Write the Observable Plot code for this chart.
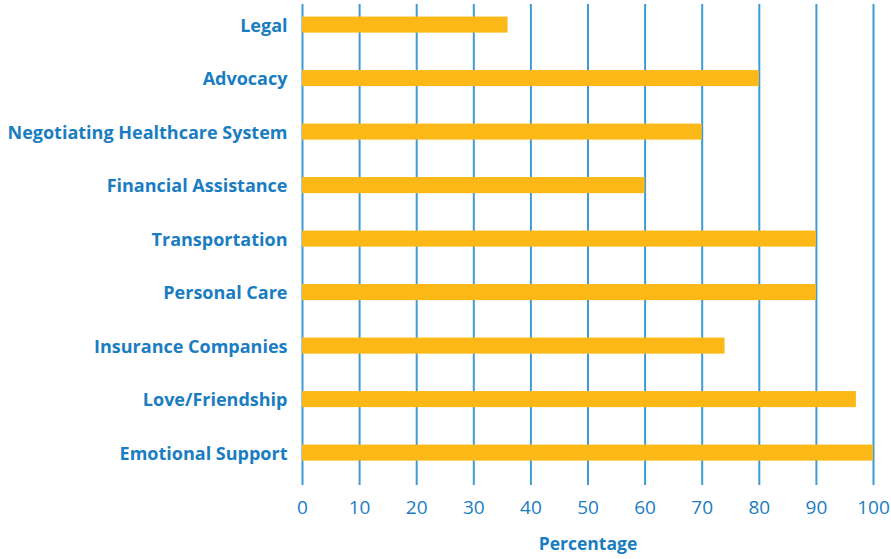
<!DOCTYPE html>
<html>
<head>
<meta charset="utf-8">
<script src="https://cdn.jsdelivr.net/npm/d3@7"></script>
<script src="https://cdn.jsdelivr.net/npm/@observablehq/plot@0.6"></script>
<style>
  html, body { margin: 0; padding: 0; background: #ffffff; }
  #chart svg { display: block; }
</style>
</head>
<body>
<div id="chart"></div>
<script>
const categories = [
  "Legal",
  "Advocacy",
  "Negotiating Healthcare System",
  "Financial Assistance",
  "Transportation",
  "Personal Care",
  "Insurance Companies",
  "Love/Friendship",
  "Emotional Support"
];
const values = [36, 80, 70, 60, 90, 90, 74, 97, 100];
const xTicks = [0, 10, 20, 30, 40, 50, 60, 70, 80, 90, 100];

const data = categories.map((c, i) => ({category: c, value: values[i]}));

const blue = "#1a7dc2";
const grid = "#3f9bd6";
const bar = "#fbb817";
const font = "'Open Sans', Lato, sans-serif";

const chart = Plot.plot({
  width: 891,
  height: 559,
  marginTop: 4,
  marginBottom: 74,
  marginLeft: 302,
  marginRight: 18,
  style: {fontFamily: font, background: "#ffffff"},
  x: {domain: [0, 100]},
  y: {domain: categories, paddingInner: 0.70, paddingOuter: 0.345, align: 0.34, round: false},
  marks: [
    Plot.gridX(xTicks, {stroke: grid, strokeOpacity: 1, strokeWidth: 2}),
    Plot.barX(data, {x: "value", y: "category", fill: bar}),
    Plot.axisY({
      tickSize: 0, tickPadding: 15, label: null,
      fontSize: 18, fontWeight: "bold", fill: blue, dy: 1
    }),
    Plot.axisX(xTicks, {
      tickSize: 0, tickPadding: 15, fontSize: 19, fill: blue,
      label: "Percentage", labelAnchor: "center", labelArrow: "none",
      labelOffset: 64
    })
  ]
});

document.getElementById("chart").appendChild(chart);
chart.querySelectorAll("g[aria-label='x-axis label'] text").forEach(t => {
  t.setAttribute("font-weight", "bold");
  t.setAttribute("font-size", "17.5");
});
</script>
</body>
</html>
